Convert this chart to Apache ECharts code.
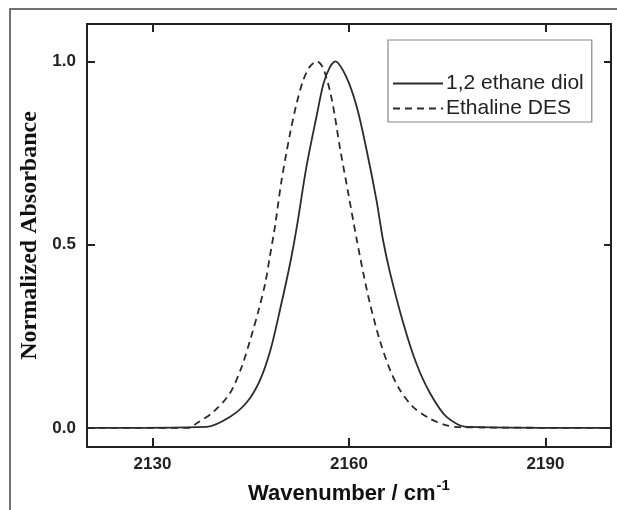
<!DOCTYPE html>
<html>
<head>
<meta charset="utf-8">
<script src="https://cdn.jsdelivr.net/npm/echarts@6/dist/echarts.min.js"></script>
<style>
  html, body { margin: 0; padding: 0; background: #fff; }
  #chart { width: 617px; height: 510px; }
</style>
</head>
<body>
<div id="chart"></div>
<script>
// values
const seriesNames = ['1,2 ethane diol', 'Ethaline DES'];
const xTicks = [2130, 2160, 2190];
const yTicks = [0, 0.5, 1.0];

const diolX = [2120, 2138.3, 2141.8, 2144.4, 2146.4, 2148.0, 2149.5, 2151.0, 2152.0, 2153.5, 2155.1, 2156.1, 2157.1, 2157.9, 2159.6, 2161.2, 2162.7, 2164.2, 2165.2, 2166.3, 2168.3, 2170.3, 2172.4, 2174.9, 2178.0, 2200];
const diolY = [0, 0.003, 0.030, 0.070, 0.130, 0.212, 0.325, 0.448, 0.545, 0.712, 0.855, 0.939, 0.985, 1.0, 0.957, 0.875, 0.757, 0.621, 0.512, 0.421, 0.285, 0.175, 0.094, 0.030, 0.003, 0];

const desX = [2120, 2135.5, 2136.7, 2139.3, 2141.8, 2143.6, 2144.9, 2146.2, 2147.2, 2147.9, 2148.7, 2149.7, 2151.0, 2152.0, 2153.0, 2154.0, 2155.1, 2156.1, 2157.4, 2158.6, 2159.9, 2161.2, 2162.2, 2163.2, 2164.7, 2166.3, 2167.8, 2169.8, 2172.4, 2174.9, 2176.9, 2200];
const desY = [0, 0, 0.012, 0.044, 0.094, 0.166, 0.239, 0.321, 0.394, 0.466, 0.550, 0.675, 0.803, 0.885, 0.948, 0.985, 1.0, 0.980, 0.894, 0.766, 0.639, 0.512, 0.421, 0.339, 0.239, 0.157, 0.103, 0.057, 0.025, 0.007, 0.002, 0];

const pairs = (xs, ys) => xs.map((x, i) => [x, ys[i]]);

const chart = echarts.init(document.getElementById('chart'));
const axisLine = { onZero: false, lineStyle: { color: '#222', width: 2 } };
const tickFont = { color: '#222', fontSize: 17, fontWeight: 'bold', fontFamily: 'Liberation Sans' };

const option = {
    animation: false,
    backgroundColor: '#fff',
    grid: { left: 87, right: 6, top: 24, bottom: 63 },
    graphic: [{
        type: 'rect',
        shape: { x: 10, y: 9, width: 640, height: 540 },
        style: { fill: 'none', stroke: '#444', lineWidth: 1.5 },
        silent: true,
        z: -1
    }],
    legend: {
        orient: 'vertical',
        left: 388,
        top: 40,
        padding: [33, 8, 3, 4],
        itemWidth: 50,
        itemHeight: 14,
        itemGap: 4,
        borderColor: '#888',
        borderWidth: 1.2,
        borderRadius: 0,
        itemStyle: { opacity: 0 },
        textStyle: { color: '#222', fontSize: 21, fontFamily: 'Liberation Sans', padding: [0, 0, 0, -2] },
        data: seriesNames
    },
    xAxis: [{
        type: 'value',
        min: 2120,
        max: 2200,
        name: '{a|Wavenumber / cm}{s|-1}',
        nameLocation: 'middle',
        nameGap: 30,
        nameTextStyle: {
            rich: {
                a: { fontSize: 22, fontWeight: 'bold', fontFamily: 'Liberation Sans', color: '#111', verticalAlign: 'bottom' },
                s: { fontSize: 15, fontWeight: 'bold', fontFamily: 'Liberation Sans', color: '#111', verticalAlign: 'bottom', padding: [0, 0, 12, 1] }
            }
        },
        axisLine: axisLine,
        axisTick: { inside: true, length: 9, customValues: xTicks, lineStyle: { color: '#222', width: 2 } },
        axisLabel: Object.assign({ margin: 9, customValues: xTicks, formatter: v => String(v) }, tickFont),
        splitLine: { show: false }
    }, {
        type: 'value',
        position: 'top',
        min: 2120,
        max: 2200,
        axisLine: axisLine,
        axisTick: { inside: true, length: 8, customValues: xTicks, lineStyle: { color: '#222', width: 2 } },
        axisLabel: { show: false },
        splitLine: { show: false }
    }],
    yAxis: [{
        type: 'value',
        min: -0.052,
        max: 1.102,
        name: 'Normalized Absorbance',
        nameLocation: 'middle',
        nameGap: 42,
        nameTextStyle: { fontSize: 24, fontWeight: 'bold', fontFamily: 'Liberation Serif', color: '#111' },
        axisLine: axisLine,
        axisTick: { inside: true, length: 8, customValues: yTicks, lineStyle: { color: '#222', width: 2 } },
        axisLabel: Object.assign({ margin: 11, customValues: yTicks, formatter: v => v.toFixed(1) }, tickFont),
        splitLine: { show: false }
    }, {
        type: 'value',
        position: 'right',
        min: -0.052,
        max: 1.102,
        axisLine: axisLine,
        axisTick: { inside: true, length: 7, customValues: yTicks, lineStyle: { color: '#222', width: 2 } },
        axisLabel: { show: false },
        splitLine: { show: false }
    }],
    series: [{
        name: seriesNames[0],
        type: 'line',
        data: pairs(diolX, diolY),
        smooth: 0.3,
        symbol: 'none',
        lineStyle: { color: '#2b2b2b', width: 1.8 },
        itemStyle: { color: '#2b2b2b' },
        z: 3
    }, {
        name: seriesNames[1],
        type: 'line',
        data: pairs(desX, desY),
        smooth: 0.3,
        symbol: 'none',
        lineStyle: { color: '#2b2b2b', width: 1.8, type: [7, 5] },
        itemStyle: { color: '#2b2b2b' },
        z: 2
    }]
};

chart.setOption(option);
</script>
</body>
</html>
